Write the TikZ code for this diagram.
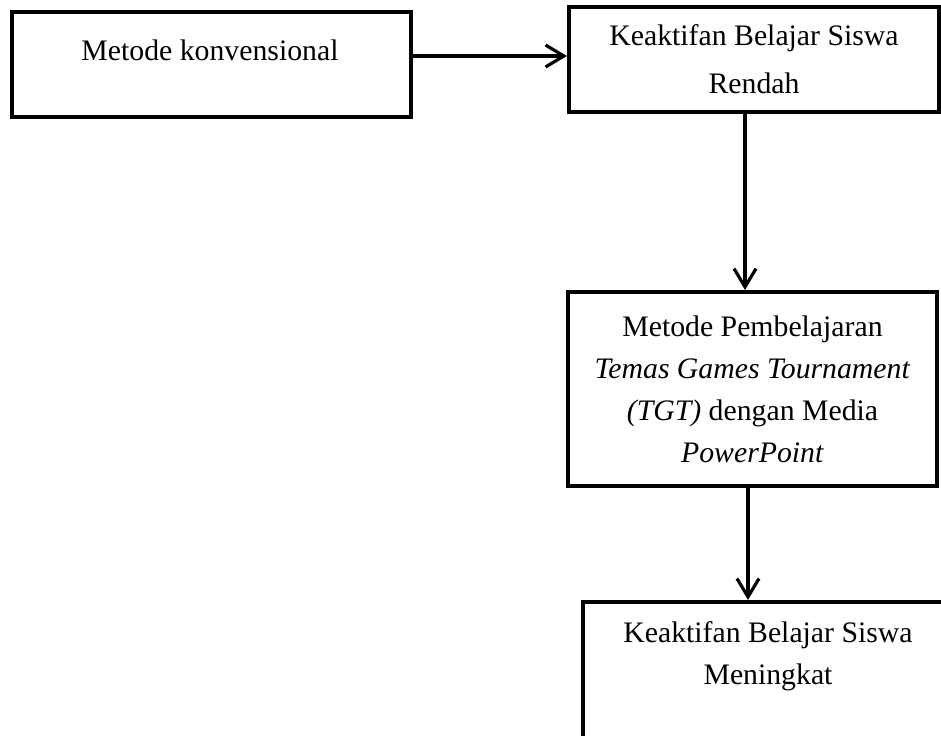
\documentclass[tikz,border=0pt]{standalone}
\usepackage{fontspec}
\setmainfont{Liberation Serif}
\usetikzlibrary{arrows.meta}

\begin{document}
\begin{tikzpicture}[x=0.41pt, y=-0.41pt]
\tikzstyle{box} = [draw, shape=rectangle, line width=1.7pt, inner sep=0pt]
\tikzstyle{txt} = [align=center, font=\fontsize{12.2}{17.2}\selectfont]
\tikzstyle{flow} = [-{Straight Barb[length=7.5pt,width=9pt]}, line width=1.3pt]
  \clip (0,0) rectangle (941,735);
  \draw
  node (konv) [box, minimum width=163.6pt, minimum height=43pt] at (211.5,64.5) {}
  node (konvtxt) [txt] at (210,50) {Metode konvensional}

  node (rendah) [box, txt, font=\fontsize{12.2}{19.7}\selectfont,
    minimum width=151.7pt, minimum height=43pt] at (754,59.5)
    {Keaktifan Belajar Siswa\\ Rendah}

  node (tgt) [box, txt, minimum width=151.3pt, minimum height=79.5pt] at (752.5,389)
    {Metode Pembelajaran\\ \textit{Temas Games Tournament}\\
     \textit{(TGT)} dengan Media\\ \textit{PowerPoint}}

  node (naik) [box, minimum width=151.7pt, minimum height=77.9pt] at (768,697) {}
  node (naiktxt) [txt] at (768,656) {Keaktifan Belajar Siswa\\ Meningkat};

  \draw [flow] (konv.east |- 0,56) -- (rendah.west |- 0,56);
  \draw [flow] (rendah.south -| 745,0) -- (tgt.north -| 745,0);
  \draw [flow] (tgt.south -| 748,0) -- (naik.north -| 748,0);
\end{tikzpicture}
\end{document}
